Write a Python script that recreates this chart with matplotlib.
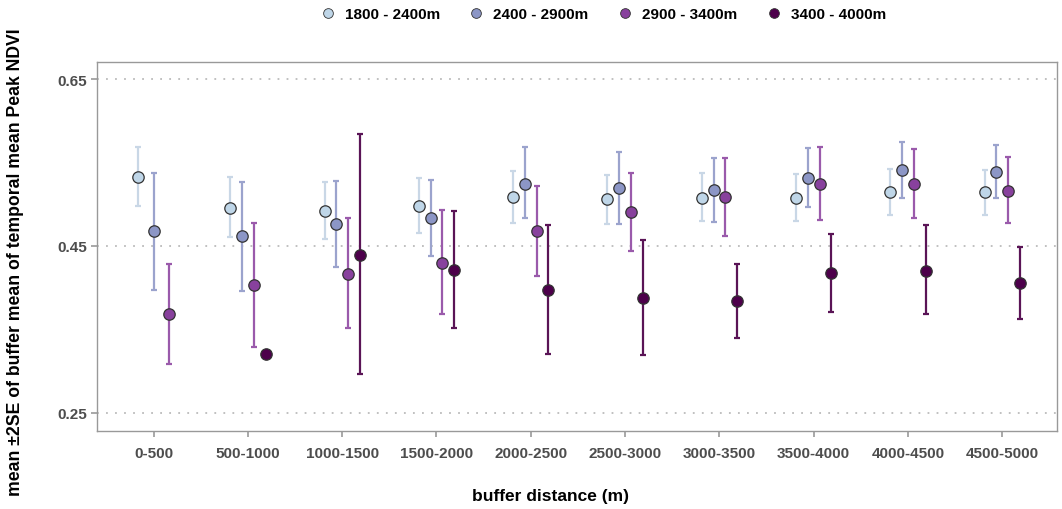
import numpy as np
import matplotlib
matplotlib.use("Agg")
import matplotlib.pyplot as plt
from matplotlib.lines import Line2D

plt.rcParams['font.family'] = ['Liberation Sans', 'DejaVu Sans']

categories = ["0-500", "500-1000", "1000-1500", "1500-2000", "2000-2500",
              "2500-3000", "3000-3500", "3500-4000", "4000-4500", "4500-5000"]
groups = ["1800 - 2400m", "2400 - 2900m", "2900 - 3400m", "3400 - 4000m"]
colors = ["#bfd6e8", "#8c96c6", "#88419d", "#4d004b"]
bar_colors = ["#c9d7e6", "#9ba3cd", "#9a5aab", "#5a1456"]
nan = np.nan

mean_1800 = [0.533, 0.496, 0.492, 0.498, 0.509, 0.506, 0.5075, 0.5075, 0.515, 0.515]
low_1800 = [0.498, 0.461, 0.458, 0.466, 0.478, 0.476, 0.480, 0.480, 0.487, 0.487]
high_1800 = [0.568, 0.533, 0.527, 0.531, 0.5395, 0.5354, 0.537, 0.536, 0.542, 0.541]

mean_2400 = [0.468, 0.462, 0.476, 0.4835, 0.5246, 0.519, 0.5175, 0.532, 0.541, 0.539]
low_2400 = [0.397, 0.3965, 0.425, 0.438, 0.4835, 0.476, 0.479, 0.497, 0.507, 0.508]
high_2400 = [0.538, 0.527, 0.528, 0.529, 0.568, 0.563, 0.556, 0.567, 0.5745, 0.571]

mean_2900 = [0.369, 0.403, 0.417, 0.430, 0.468, 0.491, 0.509, 0.524, 0.524, 0.516]
low_2900 = [0.309, 0.329, 0.352, 0.368, 0.4145, 0.4445, 0.462, 0.481, 0.483, 0.477]
high_2900 = [0.428, 0.478, 0.483, 0.493, 0.522, 0.537, 0.556, 0.568, 0.566, 0.557]

mean_3400 = [nan, 0.3207, 0.439, 0.4216, 0.3977, 0.3874, 0.3841, 0.4177, 0.4205, 0.4053]
low_3400 = [nan, nan, 0.2967, 0.352, 0.3207, 0.319, 0.340, 0.3706, 0.368, 0.3626]
high_3400 = [nan, nan, 0.5838, 0.492, 0.4752, 0.4568, 0.4284, 0.4648, 0.4748, 0.4484]

means = [mean_1800, mean_2400, mean_2900, mean_3400]
lows = [low_1800, low_2400, low_2900, low_3400]
highs = [high_1800, high_2400, high_2900, high_3400]

W, H = 1062, 510
fig = plt.figure(figsize=(W / 100, H / 100), dpi=100)
ax = fig.add_axes([97 / W, 1 - 431.5 / H, (1057 - 97) / W, (431.5 - 63) / H])

dodge = 0.5
n_cat = len(categories)
for ci in range(n_cat):
    present = [g for g in range(len(groups)) if not np.isnan(means[g][ci])]
    k = len(present)
    for j, g in enumerate(present):
        x = ci - dodge / 2 + dodge / k * (j + 0.5)
        m = means[g][ci]
        lo, hi = lows[g][ci], highs[g][ci]
        if not np.isnan(lo):
            ax.errorbar([x], [m], yerr=[[m - lo], [hi - m]], fmt='none',
                        ecolor=bar_colors[g], elinewidth=1.6, capsize=2.2,
                        capthick=1.6, zorder=2)
        ax.plot([x], [m], 'o', ms=8.2, mfc=colors[g], mec="#333333",
                mew=0.9, zorder=3)

ax.set_xlim(-0.6, 9.58)
ax.set_ylim(0.229, 0.6704)
ax.set_xticks(range(n_cat))
ax.set_xticklabels(categories)
ax.set_yticks([0.25, 0.45, 0.65])
ax.set_yticklabels(["0.25", "0.45", "0.65"])
for y in [0.25, 0.45, 0.65]:
    ax.axhline(y, color="#bbbbbb", lw=1.3, ls=(0, (1, 4)), zorder=1)

for s in ax.spines.values():
    s.set_color("#999999")
    s.set_linewidth(1.0)
ax.tick_params(axis='both', colors="#999999", length=4, width=1.2,
               labelcolor="#4d4d4d", labelsize=11)
for lab in ax.get_xticklabels() + ax.get_yticklabels():
    lab.set_fontweight('bold')
ax.tick_params(axis='x', pad=7)
ax.tick_params(axis='y', pad=3)

fig.text(550 / W, 1 - 497 / H, "buffer distance (m)", ha='center', va='center',
         fontsize=12.5, fontweight='bold', color='black')
fig.text(16 / W, 1 - 262 / H, "mean \u00b12SE of buffer mean of temporal mean Peak NDVI",
         ha='center', va='center', rotation=90, fontsize=12.7, fontweight='bold',
         color='black')

handles = [Line2D([], [], marker='o', ls='none', ms=7, mfc=c, mec="#333333",
                  mew=0.6) for c in colors]
fig.legend(handles, groups, loc='center', bbox_to_anchor=(603 / W, 1 - 15 / H),
           ncol=4, frameon=False, prop={'weight': 'bold', 'size': 11},
           handletextpad=0.6, columnspacing=1.9, handlelength=1.0)

fig.savefig("out.png", dpi=100)
